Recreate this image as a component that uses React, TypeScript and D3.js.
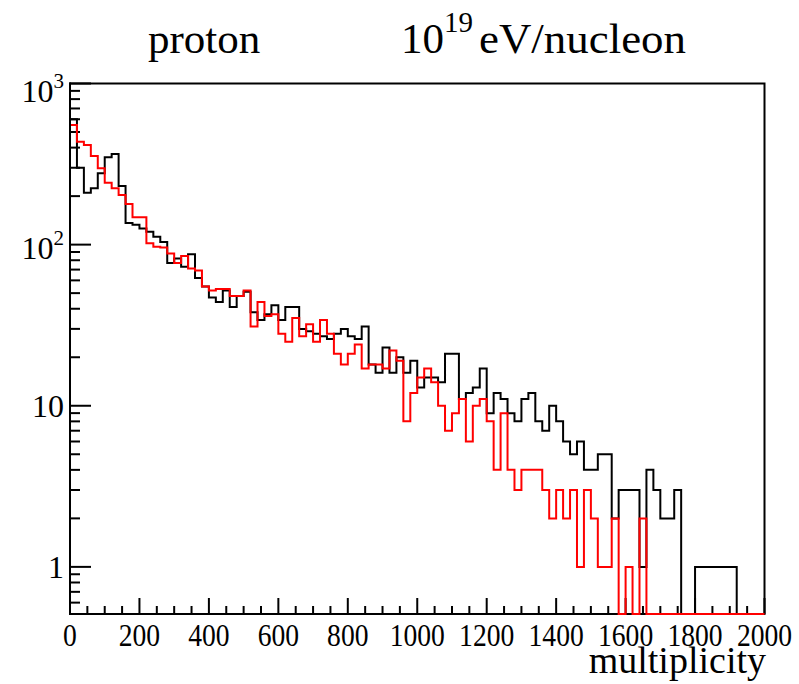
import React from 'react';
import * as d3 from 'd3';

// bin width 20, 100 bins over 0..2000
const binWidth = 20;
const blackCounts = [
  600, 300, 210, 224, 277, 348, 365, 231, 136, 133,
  126, 120, 112, 104, 77, 82, 73, 87, 62, 55,
  47, 44, 52, 41, 48, 51, 38, 34, 37, 42,
  34, 41, 41, 30, 29, 28, 27, 26, 28, 30,
  27, 26, 31, 18, 16, 23, 16, 20, 16, 19,
  13, 15, 15, 14, 21, 21, 11, 12, 13, 17,
  9, 12, 11, 9, 8, 11, 12, 8, 7, 10,
  8, 6, 5, 6, 4, 4, 5, 5, 2, 3,
  3, 3, 1, 4, 3, 2, 2, 3, 0, 0,
  1, 1, 1, 1, 1, 1, 0, 0, 0, 0,
];
const redCounts = [
  553, 435, 415, 355, 298, 242, 224, 203, 179, 148,
  148, 102, 97, 96, 88, 77, 85, 71, 69, 55,
  52, 53, 53, 48, 48, 52, 31, 44, 36, 37,
  28, 25, 35, 27, 32, 25, 34, 28, 21, 18,
  21, 24, 17, 18, 18, 17, 22, 19, 8, 12,
  15, 17, 14, 10, 7, 9, 11, 6, 10, 11,
  8, 4, 9, 4, 3, 4, 4, 4, 3, 2,
  3, 2, 3, 1, 3, 2, 1, 1, 2, 0,
  1, 0, 2, 0, 0, 0, 0, 0, 0, 0,
  0, 0, 0, 0, 0, 0, 0, 0, 0, 0,
];
const xTickLabels = ['0', '200', '400', '600', '800', '1000', '1200', '1400', '1600', '1800', '2000'];
const yMajor = [
  { v: 1000, base: '10', sup: '3' },
  { v: 100, base: '10', sup: '2' },
  { v: 10, base: '10', sup: '' },
  { v: 1, base: '1', sup: '' },
];

const W = 799;
const H = 684;
const left = 70;
const right = 764.5;
const top = 83.5;
const bottom = 614;
const yMin = 0.51;
const yMax = 1000;
const digitW = 13.8;
const font = '"Liberation Serif", "Times New Roman", Times, serif';

const x = d3.scaleLinear().domain([0, 2000]).range([left, right]);
const y = d3.scaleLog().domain([yMin, yMax]).range([bottom, top]).clamp(true);

function histPath(counts: number[]) {
  const pts: [number, number][] = [[0, yMin]];
  counts.forEach((c, i) => pts.push([i * binWidth, c > 0 ? c : yMin]));
  const last = counts[counts.length - 1];
  pts.push([counts.length * binWidth, last > 0 ? last : yMin]);
  pts.push([counts.length * binWidth, yMin]);
  const line = d3
    .line<[number, number]>()
    .x(d => x(d[0]))
    .y(d => y(d[1]))
    .curve(d3.curveStepAfter);
  return line(pts) || '';
}

export default function App() {
  const xMinor = d3.range(0, 2001, 50).filter(v => v % 200 !== 0);
  const yMinor: number[] = [];
  for (let d = -1; d <= 2; d++) {
    for (let m = 2; m <= 9; m++) {
      const v = m * Math.pow(10, d);
      if (v >= yMin && v <= yMax) yMinor.push(v);
    }
  }

  return (
    <svg
      width={W}
      height={H}
      style={{ position: 'absolute', left: 0, top: 0, background: '#fff' }}
      fontFamily={font}
    >
      <rect x={0} y={0} width={W} height={H} fill="#fff" />

      {/* title */}
      <text x={148} y={53} fontSize={43}>proton</text>
      <text x={401} y={53} fontSize={43}>
        10<tspan dy={-21} fontSize={29}>19</tspan>
      </text>
      <text x={479} y={53} fontSize={43} textLength={207} lengthAdjust="spacingAndGlyphs">eV/nucleon</text>

      {/* frame */}
      <rect x={left} y={top} width={right - left} height={bottom - top}
        fill="none" stroke="#000" strokeWidth={2} />

      {/* x ticks */}
      {xTickLabels.map(t => (
        <g key={'xt' + t}>
          <line x1={x(+t)} x2={x(+t)} y1={bottom} y2={bottom - 16} stroke="#000" strokeWidth={2} />
          <text
            x={x(+t) - (t.length * digitW) / 2}
            y={646}
            fontSize={32}
            textLength={t.length * digitW}
            lengthAdjust="spacingAndGlyphs"
          >
            {t}
          </text>
        </g>
      ))}
      {xMinor.map(v => (
        <line key={'xm' + v} x1={x(v)} x2={x(v)} y1={bottom} y2={bottom - 8} stroke="#000" strokeWidth={2} />
      ))}
      <text x={766} y={673} fontSize={38} textAnchor="end">multiplicity</text>

      {/* y ticks */}
      {yMajor.map(t => (
        <g key={'yt' + t.v}>
          <line x1={left} x2={left + 21} y1={y(t.v)} y2={y(t.v)} stroke="#000" strokeWidth={2} />
          <text
            x={64}
            y={t.v === 1000 ? y(t.v) + 18 : y(t.v) + (t.sup ? 14 : 11)}
            fontSize={32}
            textAnchor="end"
          >
            {t.base}
            {t.sup && <tspan dy={-14} fontSize={21}>{t.sup}</tspan>}
          </text>
        </g>
      ))}
      {yMinor.map(v => (
        <line key={'ym' + v} x1={left} x2={left + 10} y1={y(v)} y2={y(v)} stroke="#000" strokeWidth={2} />
      ))}

      {/* histograms */}
      <path d={histPath(blackCounts)} fill="none" stroke="#000" strokeWidth={2} />
      <path d={histPath(redCounts)} fill="none" stroke="#ff0000" strokeWidth={2} />

      {/* y axis line on top of the histogram edges */}
      <line x1={left} x2={left} y1={top - 1} y2={bottom + 1} stroke="#000" strokeWidth={2} />
    </svg>
  );
}
